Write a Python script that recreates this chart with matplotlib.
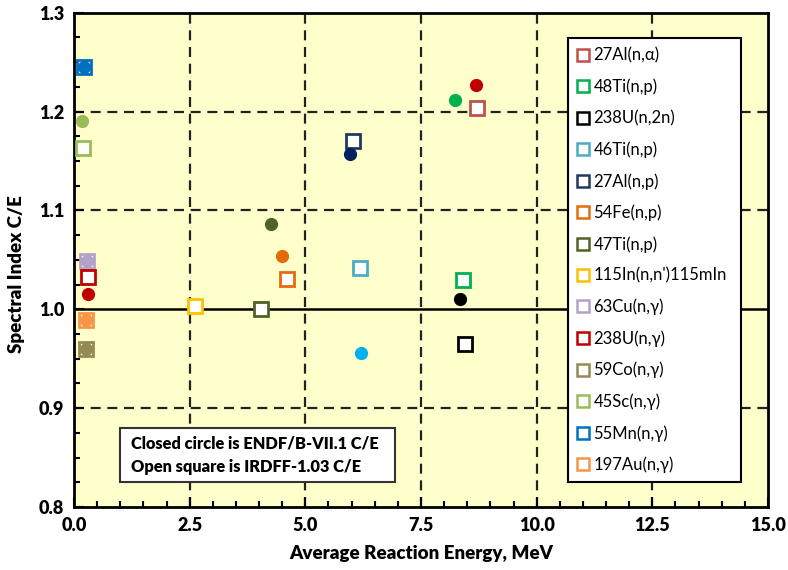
import matplotlib
matplotlib.use("Agg")
import matplotlib.pyplot as plt
from matplotlib.lines import Line2D
from matplotlib.patches import Rectangle
from matplotlib.ticker import MultipleLocator

plt.rcParams['font.family'] = ['Lato', 'DejaVu Sans']

# reactions, in legend order
reactions = ["27Al(n,\u03b1)", "48Ti(n,p)", "238U(n,2n)", "46Ti(n,p)", "27Al(n,p)",
             "54Fe(n,p)", "47Ti(n,p)", "115In(n,n')115mIn", "63Cu(n,\u03b3)",
             "238U(n,\u03b3)", "59Co(n,\u03b3)", "45Sc(n,\u03b3)", "55Mn(n,\u03b3)",
             "197Au(n,\u03b3)"]
sq_colors = ["#C0504D", "#00B050", "#000000", "#4BACC6", "#1F3864", "#E46C0A",
             "#4F6228", "#FFC000", "#B3A2C7", "#C00000", "#948A54", "#9BBB59",
             "#0070C0", "#F79646"]
ci_colors = ["#C00000", "#00B050", "#000000", "#00B0F0", "#002060", "#E36C09",
             "#4F6228", "#FFC000", "#B3A2C7", "#C00000", "#948A54", "#9BBB59",
             "#0070C0", "#F79646"]

# open squares: IRDFF-1.03 C/E
sq_energy = [8.71, 8.40, 8.45, 6.18, 6.02, 4.61, 4.04, 2.61, 0.28, 0.30, 0.27, 0.20, 0.22, 0.25]
sq_ce = [1.204, 1.030, 0.965, 1.042, 1.170, 1.031, 1.000, 1.003, 1.049, 1.033, 0.960, 1.163, 1.245, 0.989]

# closed circles: ENDF/B-VII.1 C/E (None = not shown)
ci_energy = [8.69, 8.24, 8.34, 6.20, 5.96, 4.49, 4.26, None, 0.28, 0.30, 0.27, 0.18, 0.22, 0.25]
ci_ce = [1.227, 1.212, 1.010, 0.956, 1.157, 1.054, 1.086, None, 1.049, 1.015, 0.960, 1.190, 1.245, 0.989]

fig = plt.figure(figsize=(7.88, 5.70), dpi=100)
ax = fig.add_axes([74 / 788, 1 - 507 / 570, 694 / 788, 494.3 / 570])
ax.set_facecolor("#FFFFCC")

ax.set_xlim(0, 15)
ax.set_ylim(0.8, 1.3)
ax.xaxis.set_major_locator(MultipleLocator(2.5))
ax.xaxis.set_minor_locator(MultipleLocator(0.5))
ax.yaxis.set_major_locator(MultipleLocator(0.1))
ax.yaxis.set_minor_locator(MultipleLocator(0.025))

# dashed grid, solid line at C/E = 1
for xv in [2.5, 5.0, 7.5, 10.0, 12.5]:
    ax.axvline(xv, color="#222222", lw=1.6, ls=(0, (4.5, 3)), zorder=1)
for yv in [0.9, 1.1, 1.2]:
    ax.axhline(yv, color="#222222", lw=1.6, ls=(0, (4.5, 3)), zorder=1)
ax.axhline(1.0, color="black", lw=1.8, zorder=1)

handles = []
for i, name in enumerate(reactions):
    ax.plot(sq_energy[i], sq_ce[i], marker="s", ls="none", ms=9.5, mfc="white",
            mec=sq_colors[i], mew=2, zorder=3)
    if ci_energy[i] is not None:
        ax.plot(ci_energy[i], ci_ce[i], marker="o", ls="none", ms=8.5,
                color=ci_colors[i], mec=ci_colors[i], zorder=4)
    handles.append(Line2D([], [], marker="s", ls="none", ms=8, mfc="white",
                          mec=sq_colors[i], mew=1.8, label=name))

leg = ax.legend(handles=handles, loc="upper left",
                bbox_to_anchor=(0.7125, 0.0546, 0.2483, 0.8934), mode="expand",
                fontsize=12, labelspacing=0.9, handlelength=0.6, handletextpad=0.35,
                borderpad=0.55, frameon=True, fancybox=False, edgecolor="black",
                framealpha=1, borderaxespad=0)
leg.get_frame().set_linewidth(1.5)
leg.set_zorder(6)

# note box
ax.add_patch(Rectangle((0.0663, 0.0506), 0.3962, 0.1094, transform=ax.transAxes,
                       facecolor="white", edgecolor="#333333", lw=1.5, zorder=5))
ax.text(0.0815, 0.128, "Closed circle is ENDF/B-VII.1 C/E", transform=ax.transAxes,
        fontsize=11.8, fontweight="heavy", va="center", zorder=6)
ax.text(0.0815, 0.080, "Open square is IRDFF-1.03 C/E", transform=ax.transAxes,
        fontsize=11.8, fontweight="heavy", va="center", zorder=6)

ax.tick_params(which="major", direction="in", length=7, width=1.5, labelsize=13, pad=7)
ax.tick_params(which="minor", direction="in", length=4, width=1.5)
ax.set_xticklabels(["%.1f" % v for v in ax.get_xticks()], fontweight="heavy")
ax.set_yticklabels(["%.1f" % v for v in ax.get_yticks()], fontweight="heavy")
for sp in ax.spines.values():
    sp.set_linewidth(2)

ax.set_xlabel("Average Reaction Energy, MeV", fontsize=13.5, fontweight="heavy")
ax.set_ylabel("Spectral Index C/E", fontsize=13.5, fontweight="heavy")
ax.xaxis.set_label_coords(0.5, -0.076)
ax.yaxis.set_label_coords(-0.07, 0.472)

fig.savefig("out.png", dpi=100)
